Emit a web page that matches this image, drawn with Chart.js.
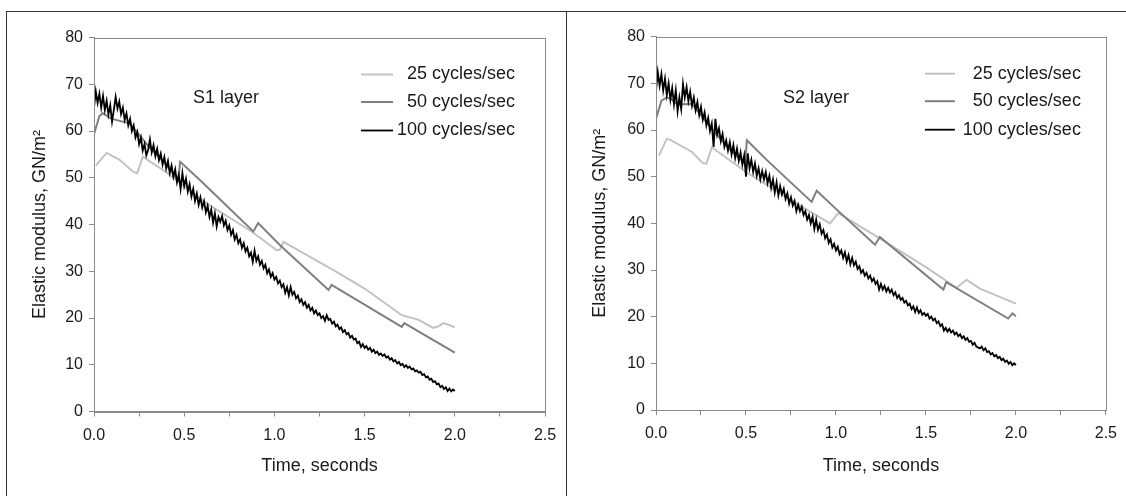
<!DOCTYPE html>
<html>
<head>
<meta charset="utf-8">
<script src="https://cdn.jsdelivr.net/npm/chart.js@4.4.1/dist/chart.umd.min.js"></script>
<style>
  html, body { margin: 0; padding: 0; background: #fff; }
  #wrap { position: relative; width: 1126px; height: 496px; overflow: hidden; }
  .rule { position: absolute; background: #333; }
  canvas { position: absolute; }
</style>
</head>
<body>
<div id="wrap">
  <div class="rule" style="left:6px;top:11px;width:1120px;height:1px"></div>
  <div class="rule" style="left:6px;top:11px;width:1px;height:485px"></div>
  <div class="rule" style="left:566px;top:11px;width:1px;height:485px"></div>
  <canvas id="s1" width="559" height="484" style="left:7px;top:12px"></canvas>
  <canvas id="s2" width="559" height="484" style="left:567px;top:12px"></canvas>
</div>
<script>
// series labels
const seriesLabels = ["25 cycles/sec", "50 cycles/sec", "100 cycles/sec"];
const xTicks = [0, 0.5, 1.0, 1.5, 2.0, 2.5];
const yTicks = [0, 10, 20, 30, 40, 50, 60, 70, 80];

// S1 layer, 25 cycles/sec (time, value)
const t25S1 = [0.01, 0.07, 0.14, 0.22, 0.24, 0.27, 0.4, 0.5, 0.625, 0.874, 1.013, 1.03, 1.05, 1.325, 1.5, 1.706, 1.80, 1.88, 1.91, 1.936, 1.96, 2.0];
const v25S1 = [52.6, 55.3, 53.9, 51.2, 51.0, 54.5, 51.2, 48.2, 44.5, 38.5, 34.5, 34.6, 36.3, 30.3, 26.3, 20.6, 19.6, 17.9, 18.2, 18.9, 18.6, 18.0];

// S1 layer, 50 cycles/sec
const t50S1 = [0.0, 0.03, 0.05, 0.08, 0.10, 0.2, 0.3, 0.4, 0.466, 0.478, 0.587, 0.883, 0.91, 1.03, 1.30, 1.317, 1.706, 1.72, 2.0];
const v50S1 = [59.3, 63.2, 63.8, 63.0, 62.6, 61.6, 56.8, 52.8, 49.5, 53.4, 49.5, 38.5, 40.3, 35.6, 26.0, 27.1, 18.1, 18.9, 12.6];

// S1 layer, 100 cycles/sec, sampled every 0.01 s from 0 to 2.0
const v100S1 = [
  65.0, 68.5, 66.0, 68.0, 65.0, 67.5, 64.5, 66.5, 63.5, 65.5,
  62.0, 64.5, 67.3, 64.8, 66.3, 63.6, 65.0, 62.4, 63.8, 61.2,
  62.6, 60.0, 61.2, 58.6, 59.8, 57.2, 58.6, 55.8, 57.2, 54.8,
  56.0, 58.2, 55.4, 57.0, 54.6, 56.2, 53.8, 55.2, 52.8, 54.4,
  52.0, 53.6, 51.0, 52.6, 50.2, 51.8, 49.0, 50.6, 47.6, 51.0,
  48.2, 49.8, 47.0, 48.6, 46.0, 47.6, 45.0, 46.6, 44.2, 45.8,
  43.6, 45.0, 42.6, 44.0, 41.6, 43.2, 40.4, 42.4, 39.6, 41.6,
  40.6, 41.8, 39.8, 40.8, 38.8, 39.8, 37.8, 38.8, 36.8, 37.8,
  36.0, 36.8, 35.0, 36.0, 34.2, 35.0, 33.2, 34.0, 32.0, 34.4,
  32.2, 33.2, 31.4, 32.2, 30.6, 31.4, 29.6, 30.4, 28.8, 29.6,
  28.2, 28.8, 27.4, 28.0, 26.6, 27.2, 25.4, 26.6, 24.8, 26.6,
  25.0, 25.6, 24.2, 24.8, 23.4, 24.0, 22.8, 23.4, 22.2, 22.8,
  21.6, 22.2, 21.0, 21.6, 20.6, 21.0, 20.0, 20.4, 19.4, 20.6,
  19.6, 19.8, 18.8, 19.2, 18.2, 18.6, 17.6, 18.0, 17.0, 17.4,
  16.5, 16.8, 15.8, 16.2, 15.4, 15.6, 14.6, 14.9, 13.8, 14.4,
  13.6, 14.0, 13.2, 13.6, 12.8, 13.2, 12.5, 12.8, 12.1, 12.4,
  11.9, 12.2, 11.5, 11.8, 11.1, 11.4, 10.7, 11.0, 10.3, 10.6,
  9.9, 10.2, 9.5, 9.9, 9.3, 9.6, 9.0, 9.2, 8.6, 8.8,
  8.3, 8.5, 7.8, 8.0, 7.3, 7.5, 6.8, 7.0, 6.3, 6.5,
  5.8, 6.0, 5.2, 5.5, 4.8, 5.2, 4.4, 4.9, 4.3, 4.7,
  4.4
];

// S2 layer, 25 cycles/sec
const t25S2 = [0.016, 0.06, 0.08, 0.2, 0.26, 0.28, 0.31, 0.5, 0.78, 0.967, 1.013, 1.2, 1.5, 1.67, 1.726, 1.8, 2.0];
const v25S2 = [54.5, 58.1, 57.9, 55.3, 52.9, 52.8, 56.3, 51.0, 44.3, 40.0, 42.2, 37.8, 30.6, 26.2, 27.9, 26.0, 22.8];

// S2 layer, 50 cycles/sec
const t50S2 = [0.0, 0.03, 0.06, 0.08, 0.12, 0.2, 0.3, 0.4, 0.495, 0.505, 0.615, 0.865, 0.893, 1.0, 1.217, 1.244, 1.597, 1.613, 1.957, 1.98, 2.0];
const v50S2 = [62.4, 66.3, 67.0, 66.7, 65.5, 65.6, 60.8, 56.2, 52.8, 57.8, 53.6, 44.6, 47.0, 43.1, 35.4, 37.1, 25.8, 27.4, 19.6, 20.7, 20.1];

// S2 layer, 100 cycles/sec, sampled every 0.01 s from 0 to 2.0
const v100S2 = [
  68.4, 72.4, 69.5, 72.0, 68.5, 71.0, 67.5, 70.0, 66.5, 69.0,
  65.5, 68.5, 64.0, 67.0, 64.5, 69.9, 67.0, 69.2, 66.2, 68.2,
  65.2, 67.0, 64.2, 66.0, 63.2, 65.0, 62.2, 63.8, 61.0, 62.6,
  59.8, 61.4, 56.4, 62.4, 59.0, 60.4, 57.6, 59.2, 56.4, 57.8,
  55.6, 57.4, 54.8, 56.8, 54.0, 56.0, 53.4, 55.2, 52.6, 54.6,
  50.0, 55.0, 51.8, 53.6, 51.0, 52.8, 50.2, 51.8, 49.4, 51.2,
  49.4, 51.0, 48.6, 50.2, 47.6, 49.4, 46.6, 48.8, 46.0, 48.0,
  46.2, 47.4, 45.2, 46.4, 44.2, 45.6, 43.8, 44.8, 42.6, 44.0,
  42.6, 43.6, 41.8, 42.6, 40.8, 41.8, 40.0, 41.4, 38.8, 40.8,
  38.6, 39.8, 37.8, 38.6, 36.8, 37.6, 35.8, 36.6, 34.8, 35.6,
  34.2, 35.0, 33.4, 34.2, 32.6, 33.8, 31.8, 33.2, 31.2, 32.6,
  31.0, 31.8, 30.2, 30.8, 29.4, 30.0, 28.8, 29.4, 28.2, 28.8,
  27.6, 28.2, 27.0, 27.6, 25.8, 27.0, 25.8, 26.6, 25.4, 26.2,
  25.2, 25.8, 24.6, 25.2, 24.0, 24.6, 23.6, 24.0, 23.0, 23.4,
  22.4, 22.8, 21.6, 22.2, 21.0, 22.0, 20.8, 21.4, 20.4, 20.8,
  20.2, 20.6, 19.6, 20.0, 19.2, 19.6, 18.6, 19.0, 18.0, 18.4,
  17.0, 17.6, 16.8, 17.4, 16.6, 17.0, 16.2, 16.6, 15.8, 16.2,
  15.4, 15.8, 15.0, 15.4, 14.6, 14.8, 14.0, 14.4, 13.6, 13.4,
  13.2, 13.6, 12.8, 13.2, 12.4, 12.6, 11.9, 12.2, 11.5, 11.8,
  11.1, 11.4, 10.7, 11.0, 10.3, 10.6, 9.9, 10.3, 9.6, 10.0,
  9.6
];
const step100 = 0.01;

const lineColors = ["#c2c2c2", "#7f7f7f", "#000000"];
const lineWidths = [2, 2, 1.8];
const axisColor = "#8a8a8a";
const textColor = "#1a1a1a";
const fontFamily = "'Liberation Sans', Arial, sans-serif";

function pairs(t, v) {
  return v.map((y, i) => ({ x: t[i], y: y }));
}
function sampled(v) {
  return v.map((y, i) => ({ x: +(i * step100).toFixed(2), y: y }));
}

// draws plot frame, inner legend and the layer label
const panelDeco = {
  id: "panelDeco",
  afterDatasetsDraw(chart, args, opts) {
    const { ctx, chartArea: a } = chart;
    ctx.save();
    ctx.strokeStyle = axisColor;
    ctx.lineWidth = 1;
    ctx.strokeRect(Math.round(a.left) + 0.5, Math.round(a.top) + 0.5,
      Math.round(a.right - a.left), Math.round(a.bottom - a.top));

    ctx.font = "18px " + fontFamily;
    ctx.fillStyle = textColor;
    ctx.textBaseline = "middle";
    ctx.textAlign = "center";
    ctx.fillText(opts.label, a.left + opts.labelDx, a.top + 61);

    ctx.textAlign = "right";
    const rows = [37, 64.5, 93];
    seriesLabels.forEach((lab, i) => {
      const y = a.top + rows[i];
      ctx.strokeStyle = lineColors[i];
      ctx.lineWidth = lineWidths[i];
      ctx.beginPath();
      ctx.moveTo(a.right - opts.lineFrom, y);
      ctx.lineTo(a.right - opts.lineTo, y);
      ctx.stroke();
      ctx.fillText(lab, a.right - opts.textRight, y);
    });
    ctx.restore();
  }
};

function makeChart(id, sets, deco, box) {
  const datasets = sets.map((d, i) => ({
    label: seriesLabels[i],
    data: d,
    borderColor: lineColors[i],
    borderWidth: lineWidths[i],
    pointRadius: 0,
    tension: 0,
    fill: false,
    order: 3 - i
  }));
  return new Chart(document.getElementById(id), {
    type: "line",
    data: { datasets: datasets },
    plugins: [panelDeco],
    options: {
      responsive: false,
      animation: false,
      events: [],
      layout: { padding: { top: box.top, right: box.right, left: 0, bottom: 0 } },
      plugins: {
        legend: { display: false },
        tooltip: { enabled: false },
        panelDeco: deco
      },
      scales: {
        x: {
          type: "linear",
          min: 0,
          max: 2.5,
          afterFit: (s) => { s.height = box.xh; },
          afterBuildTicks: (s) => {
            const ticks = [];
            for (let k = 0; k <= 10; k++) ticks.push({ value: k * 0.25 });
            s.ticks = ticks;
          },
          border: { display: true, color: axisColor, width: 1 },
          grid: { display: true, drawOnChartArea: false, drawTicks: true, tickLength: 5, color: axisColor },
          ticks: {
            autoSkip: false,
            maxRotation: 0,
            padding: 9,
            color: textColor,
            font: { family: fontFamily, size: 16 },
            callback: (v) => xTicks.some(t => Math.abs(t - v) < 1e-6) ? v.toFixed(1) : ""
          },
          title: {
            display: true,
            text: "Time, seconds",
            color: textColor,
            font: { family: fontFamily, size: 18 },
            padding: { top: 0, bottom: 19 }
          }
        },
        y: {
          min: 0,
          max: 80,
          afterFit: (s) => { s.width = box.yw; },
          afterBuildTicks: (s) => { s.ticks = yTicks.map(v => ({ value: v })); },
          border: { display: true, color: axisColor, width: 1 },
          grid: { display: true, drawOnChartArea: false, drawTicks: true, tickLength: 5, color: axisColor },
          ticks: {
            padding: 6,
            color: textColor,
            font: { family: fontFamily, size: 16 }
          },
          title: {
            display: true,
            text: "Elastic modulus, GN/m\u00B2",
            color: textColor,
            font: { family: fontFamily, size: 18 },
            padding: { top: 22, bottom: 0 }
          }
        }
      }
    }
  });
}

makeChart("s1",
  [pairs(t25S1, v25S1), pairs(t50S1, v50S1), sampled(v100S1)],
  { label: "S1 layer", labelDx: 132, lineFrom: 184, lineTo: 152, textRight: 30 },
  { top: 25.5, right: 21, xh: 84.5, yw: 87 });

makeChart("s2",
  [pairs(t25S2, v25S2), pairs(t50S2, v50S2), sampled(v100S2)],
  { label: "S2 layer", labelDx: 160, lineFrom: 181, lineTo: 151, textRight: 25 },
  { top: 24.7, right: 20, xh: 86, yw: 89 });
</script>
</body>
</html>
